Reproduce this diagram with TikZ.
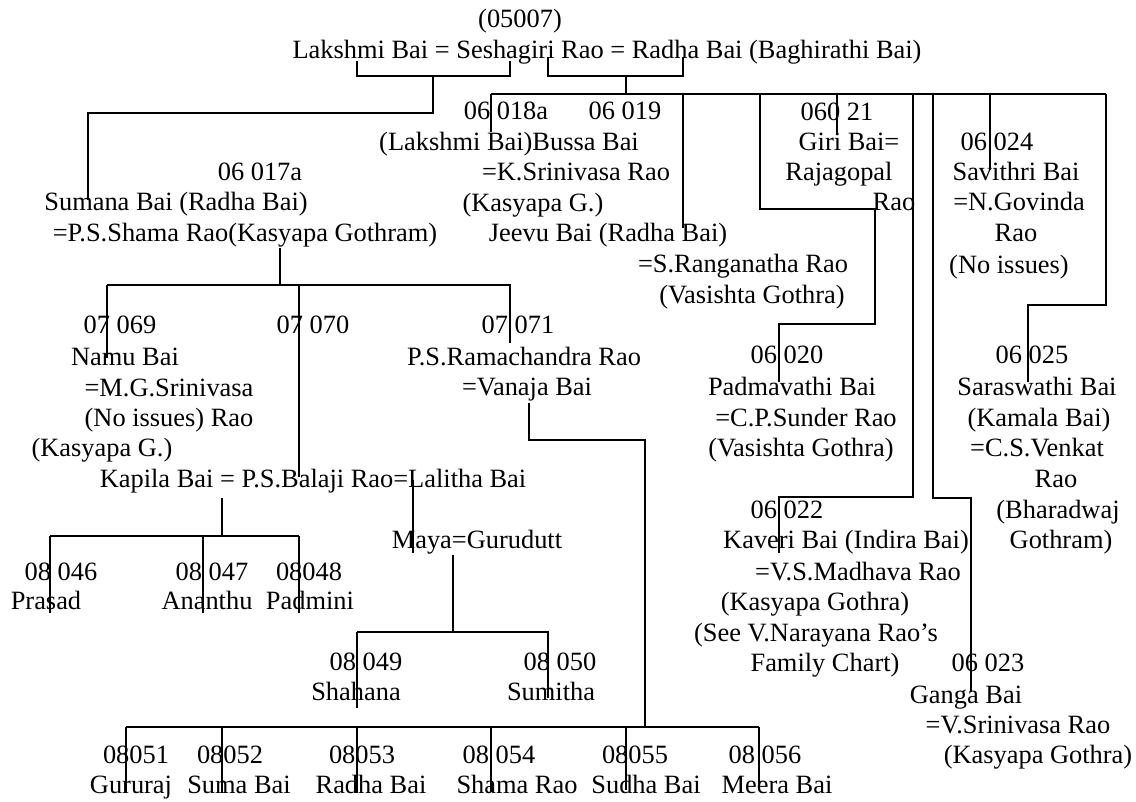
\documentclass[tikz,border=0pt]{standalone}
\usepackage{fontspec}
\setmainfont{Liberation Serif}
\usepackage{tikz}

\tikzset{
  lbl/.style={inner sep=0pt, text height=0.66em, text depth=0pt},
  link/.style={line width=1.8pt},
}

\begin{document}
\begin{tikzpicture}[x=1pt,y=-1pt,font=\fontsize{26.4}{30.5}\selectfont]
  \useasboundingbox (0,0) rectangle (1136,802);
  % generation 05
  \node[lbl] (id05) at (520,24) {(05007)};
  \node[lbl] (seshagiri) at (607,55) {Lakshmi Bai = Seshagiri Rao = Radha Bai (Baghirathi Bai)};
  % generation 06
  \node[lbl] (id018) at (506,116) {06 018a};
  \node[lbl] (id019) at (625,116) {06 019};
  \node[lbl] (bussa) at (509,147) {(Lakshmi Bai)Bussa Bai};
  \node[lbl] (bussa2) at (576,177) {=K.Srinivasa Rao};
  \node[lbl] (bussa3) at (533,208) {(Kasyapa G.)};
  \node[lbl] (jeevu) at (608,238) {Jeevu Bai (Radha Bai)};
  \node[lbl] (jeevu2) at (743,269) {=S.Ranganatha Rao};
  \node[lbl] (jeevu3) at (752,300) {(Vasishta Gothra)};
  \node[lbl] (id017) at (260,177) {06 017a};
  \node[lbl] (sumana) at (176,207) {Sumana Bai (Radha Bai)};
  \node[lbl] (sumana2) at (245,238) {=P.S.Shama Rao(Kasyapa Gothram)};
  \node[lbl] (id021) at (837,117) {060 21};
  \node[lbl] (giri) at (849,147) {Giri Bai=};
  \node[lbl] (giri2) at (839,177) {Rajagopal};
  \node[lbl] (giri3) at (894,207) {Rao};
  \node[lbl] (id024) at (997,147) {06 024};
  \node[lbl] (savithri) at (1016,177) {Savithri Bai};
  \node[lbl] (savithri2) at (1019,207) {=N.Govinda};
  \node[lbl] (savithri3) at (1016,238) {Rao};
  \node[lbl] (savithri4) at (1009,270) {(No issues)};
  \node[lbl] (id020) at (787,360) {06 020};
  \node[lbl] (padma) at (792,392) {Padmavathi Bai};
  \node[lbl] (padma2) at (806,423) {=C.P.Sunder Rao};
  \node[lbl] (padma3) at (801,453) {(Vasishta Gothra)};
  \node[lbl] (id025) at (1032,360) {06 025};
  \node[lbl] (saras) at (1037,392) {Saraswathi Bai};
  \node[lbl] (saras2) at (1039,423) {(Kamala Bai)};
  \node[lbl] (saras3) at (1037,453) {=C.S.Venkat};
  \node[lbl] (saras4) at (1056,484) {Rao};
  \node[lbl] (saras5) at (1058,515) {(Bharadwaj};
  \node[lbl] (saras6) at (1061,545) {Gothram)};
  \node[lbl] (id022) at (787,515) {06 022};
  \node[lbl] (kaveri) at (846,545) {Kaveri Bai (Indira Bai)};
  \node[lbl] (kaveri2) at (858,577) {=V.S.Madhava Rao};
  \node[lbl] (kaveri3) at (815,607) {(Kasyapa Gothra)};
  \node[lbl] (kaveri4) at (816,638) {(See V.Narayana Rao’s};
  \node[lbl] (kaveri5) at (825,668) {Family Chart)};
  \node[lbl] (id023) at (988,668) {06 023};
  \node[lbl] (ganga) at (966,700) {Ganga Bai};
  \node[lbl] (ganga2) at (1018,730) {=V.Srinivasa Rao};
  \node[lbl] (ganga3) at (1038,760) {(Kasyapa Gothra)};
  % generation 07
  \node[lbl] (id069) at (120,330) {07 069};
  \node[lbl] (namu) at (125,362) {Namu Bai};
  \node[lbl] (namu2) at (169,393) {=M.G.Srinivasa};
  \node[lbl] (namu3) at (169,423) {(No issues) Rao};
  \node[lbl] (namu4) at (102,453) {(Kasyapa G.)};
  \node[lbl] (id070) at (313,330) {07 070};
  \node[lbl] (balaji) at (313,484) {Kapila Bai = P.S.Balaji Rao=Lalitha Bai};
  \node[lbl] (id071) at (518,330) {07 071};
  \node[lbl] (rama) at (524,362) {P.S.Ramachandra Rao};
  \node[lbl] (rama2) at (527,392) {=Vanaja Bai};
  % generation 08
  \node[lbl] (id046) at (61,577) {08 046};
  \node[lbl] (prasad) at (46,606) {Prasad};
  \node[lbl] (id047) at (212,577) {08 047};
  \node[lbl] (ananthu) at (207,606) {Ananthu};
  \node[lbl] (id048) at (309,577) {08048};
  \node[lbl] (padmini) at (310,606) {Padmini};
  \node[lbl] (maya) at (477,545) {Maya=Gurudutt};
  \node[lbl] (id049) at (366,667) {08 049};
  \node[lbl] (shahana) at (356,697) {Shahana};
  \node[lbl] (id050) at (560,667) {08 050};
  \node[lbl] (sumitha) at (551,697) {Sumitha};
  \foreach \n/\xa/\xb/\id/\nm in {51/136/131/08051/Gururaj, 52/230/239/08052/Suma Bai,
      53/362/371/08053/Radha Bai, 54/499/517/08 054/Shama Rao,
      55/635/646/08055/Sudha Bai, 56/765/777/08 056/Meera Bai}{
    \node[lbl] (id0\n) at (\xa,760) {\id};
    \node[lbl] (nm0\n) at (\xb,790) {\nm};
  }

  % corners and line ends
  \foreach \c/\x/\y in {wL/357/61, hS/510/61, mA/433/76, kA/88/113, eSum/88/200,
      hS2/548/57, wR/683/57, mB/626/76, busL/491/94, busR/1106/94,
      e018/491/132, eJee/683/228, e021/837/135, e024/990/170,
      r1/760/209, r2/875/324, e020/779/382, r3/913/497, e022/779/553,
      r4/933/498, e023/971/692, r5/1106/305, e025/1028/382,
      s1/280/248, sL/107/285, sR/510/285, e069/107/358, e070/299/477, e071/510/343,
      v1/529/403, v2/645/440, bL/126/727, bR/759/727,
      g051/126/793, g052/222/793, g053/357/793, g054/491/792, g055/626/790, g056/759/785,
      k1/222/498, kL/50/536, kR/299/536, e046/50/613, e047/203/613, e048/299/613,
      la1/413/480, la2/413/553, m1/453/555, mL/357/632, mR/548/632, e049/357/708, e050/548/698}
    \coordinate (\c) at (\x,\y);

  % 05 marriages
  \draw[link] (wL) |- (mA) -| (hS);
  \draw[link] (mA) |- (kA) -- (eSum);
  \draw[link] (hS2) |- (mB) -| (wR);
  \draw[link] (mB) -- (mB |- busL);
  \draw[link] (busL) -- (busR);
  % 06 children
  \foreach \e in {e018,eJee,e021,e024}
    \draw[link] (\e |- busL) -- (\e);
  \draw[link] (r1 |- busL) -- (r1) -| (r2) -| (e020);
  \draw[link] (r3 |- busL) -- (r3) -| (e022);
  \draw[link] (r4 |- busL) -- (r4) -| (e023);
  \draw[link] (busR) -- (r5) -| (e025);
  % 07 children
  \draw[link] (s1) -- (s1 |- sL);
  \draw[link] (sL) -- (sR) -- (e071);
  \draw[link] (sL) -- (e069);
  \draw[link] (e070 |- sL) -- (e070);
  % 08 children
  \draw[link] (v1) |- (v2) -- (v2 |- bL);
  \draw[link] (bL) -- (bR);
  \foreach \g in {g051,g052,g053,g054,g055,g056}
    \draw[link] (\g |- bL) -- (\g);
  \draw[link] (k1) -- (k1 |- kL);
  \draw[link] (kL) -- (kR);
  \foreach \e in {e046,e047,e048}
    \draw[link] (\e |- kL) -- (\e);
  \draw[link] (la1) -- (la2);
  \draw[link] (m1) -- (m1 |- mL);
  \draw[link] (mL) -- (mR) -- (e050);
  \draw[link] (mL) -- (e049);
\end{tikzpicture}
\end{document}
